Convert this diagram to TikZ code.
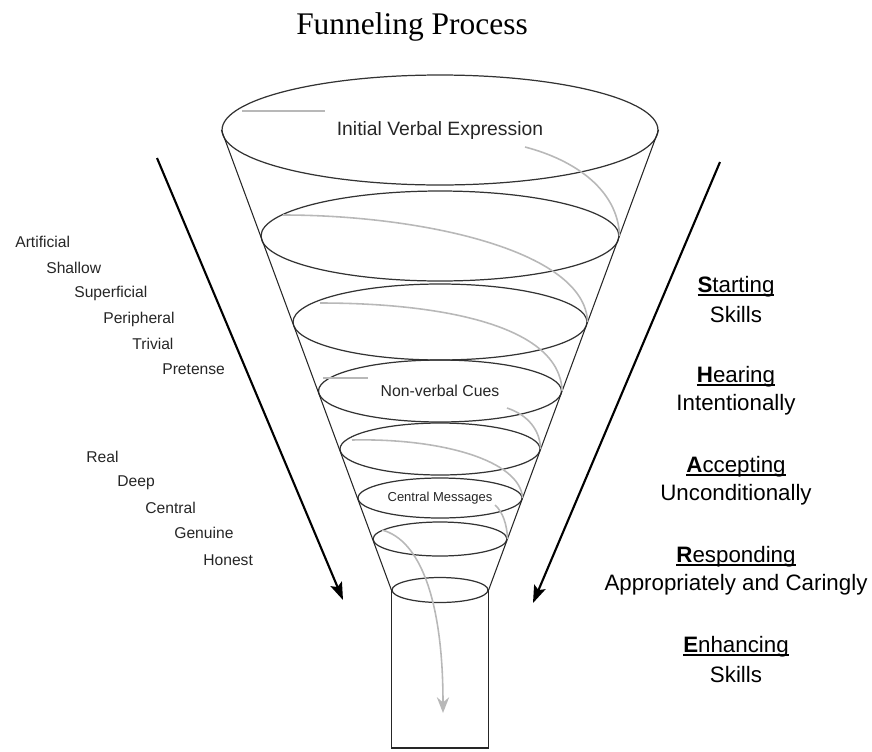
\documentclass[tikz,border=0pt]{standalone}
\usepackage{fontspec}
\setmainfont{Liberation Serif}
\setsansfont{Liberation Sans}
\usetikzlibrary{shapes.geometric, arrows.meta}

\newcommand{\ulword}[1]{\setbox0=\hbox{#1}\rlap{\rule[-0.13em]{\wd0}{0.06em}}\box0}

\begin{document}
\begin{tikzpicture}[x=0.02cm, y=-0.02cm,
        ring/.style={ellipse, draw=black!80, line width=0.7pt, inner sep=0pt, text=black!85},
        trail/.style={black!28, line width=0.9pt},
        flow/.style={line width=1.2pt, -{Stealth[length=10pt, width=7pt, inset=2pt]}},
        word/.style={anchor=west, inner sep=0pt, text=black!85, font=\sffamily\fontsize{8.9}{10}\selectfont},
        stage/.style={inner sep=0pt, font=\sffamily\fontsize{12.7}{14}\selectfont},
        ]
        \useasboundingbox (0,0) rectangle (872,751);
        \node[anchor=base, inner sep=0pt, font=\fontsize{17.9}{20}\selectfont] (title) at (412,34) {Funneling Process};

        \node[ring, minimum width=8.72cm, minimum height=2.2cm, font=\sffamily\fontsize{11}{13}\selectfont] (r1) at (440,130) {Initial Verbal Expression};
        \node[ring, minimum width=7.16cm, minimum height=1.8cm] (r2) at (440,236) {};
        \node[ring, minimum width=5.88cm, minimum height=1.52cm] (r3) at (440,322) {};
        \node[ring, minimum width=4.86cm, minimum height=1.24cm, font=\sffamily\fontsize{9}{10}\selectfont] (r4) at (440,391) {Non-verbal Cues};
        \node[ring, minimum width=4.0cm, minimum height=1.04cm] (r5) at (440,449) {};
        \node[ring, minimum width=3.28cm, minimum height=0.8cm, font=\sffamily\fontsize{7.4}{8}\selectfont] (r6) at (440,498) {Central Messages};
        \node[ring, minimum width=2.68cm, minimum height=0.68cm] (r7) at (440,539) {};
        \node[ring, minimum width=1.92cm, minimum height=0.5cm] (r8) at (440,590) {};

        \draw [black!85, line width=0.6pt] (r1.west) -- (r8.west);
        \draw [black!85, line width=0.6pt] (r1.east) -- (r8.east);
        \draw [black!85, line width=0.6pt] (r8.west) -- ++(0,158) -| (r8.east);

        \draw [trail] (242,111) -- (325,111);
        \draw [trail] (525,147) .. controls (575,160) and (618,190) .. (r2.east);
        \draw [trail] (283,215) .. controls (420,215) and (585,250) .. (r3.east);
        \draw [trail] (320,303) .. controls (440,303) and (560,325) .. (r4.east);
        \draw [trail] (323,378) -- (368,378);
        \draw [trail] (507,408) .. controls (528,415) and (540,430) .. (r5.east);
        \draw [trail] (352,440) .. controls (440,438) and (520,460) .. (r6.east);
        \draw [trail] (495,505) .. controls (503,512) and (507,525) .. (r7.east);
        \draw [trail, -{Stealth[length=9pt, width=7pt, inset=3pt]}] (382,530) .. controls (420,540) and (443,600) .. (443,713);

        \coordinate (ls) at (157,158);
        \coordinate (le) at (343,600);
        \coordinate (rs) at (720,162);
        \coordinate (re) at (533,603);
        \draw [flow] (ls) -- (le);
        \draw [flow] (rs) -- (re);

        \node[word] (w1) at (15,242) {Artificial};
        \node[word] (w2) at (46,268) {Shallow};
        \node[word] (w3) at (74,293) {Superficial};
        \node[word] (w4) at (103,319) {Peripheral};
        \node[word] (w5) at (132,344) {Trivial};
        \node[word] (w6) at (162,369) {Pretense};
        \node[word] (w7) at (86,457) {Real};
        \node[word] (w8) at (117,483) {Deep};
        \node[word] (w9) at (145,508) {Central};
        \node[word] (w10) at (174,533) {Genuine};
        \node[word] (w11) at (203,560) {Honest};

        \node[stage] (s1) at (736,287) {\ulword{\textbf{S}tarting}};
        \node[stage] (s1b) at (736,315) {Skills};
        \node[stage] (s2) at (736,377) {\ulword{\textbf{H}earing}};
        \node[stage] (s2b) at (736,405) {Intentionally};
        \node[stage] (s3) at (736,467) {\ulword{\textbf{A}ccepting}};
        \node[stage] (s3b) at (736,495) {Unconditionally};
        \node[stage] (s4) at (736,557) {\ulword{\textbf{R}esponding}};
        \node[stage] (s4b) at (736,585) {Appropriately and Caringly};
        \node[stage] (s5) at (736,647) {\ulword{\textbf{E}nhancing}};
        \node[stage] (s5b) at (736,675) {Skills};
\end{tikzpicture}
\end{document}
